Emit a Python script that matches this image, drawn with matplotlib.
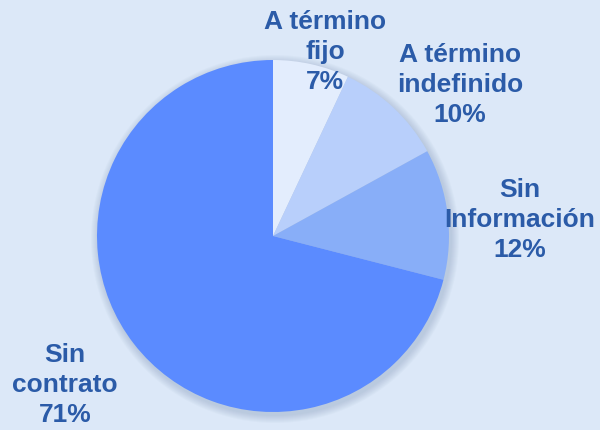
import matplotlib.pyplot as plt
from matplotlib.patches import Circle

labels = ["A término\nfijo", "A término\nindefinido", "Sin\nInformación", "Sin\ncontrato"]
shares = [7, 10, 12, 71]
colors = ["#E3EDFD", "#B8CFFB", "#88AEF8", "#5B8BFF"]
# label anchor (x, y) in pixel coordinates, y from bottom
label_pos = [(325, 378), (460, 345), (520, 210), (65, 45)]

BG = "#DCE8F8"
TXT = "#2B5BA8"

fig = plt.figure(figsize=(6, 4.3), dpi=100, facecolor=BG)
ax = fig.add_axes([0, 0, 1, 1])

cx, cy, r = 273, 194, 176

# soft shadow behind the pie
for i in range(8):
    ax.add_patch(Circle((cx + 2, cy - 3), r + 1 + i, color="#6F86A8",
                        alpha=0.04, lw=0, zorder=1))

ax.pie(shares, colors=colors, startangle=90, counterclock=False,
       center=(cx, cy), radius=r, frame=True,
       wedgeprops=dict(linewidth=0, zorder=2))
ax.set_xlim(0, 600)
ax.set_ylim(0, 430)
ax.set_aspect("equal")
ax.axis("off")

for lab, val, (x, y) in zip(labels, shares, label_pos):
    ax.text(x, y, f"{lab}\n{val}%", ha="center", va="center", color=TXT,
            fontsize=19, fontweight="bold", family="Liberation Sans",
            linespacing=1.34, zorder=5)

fig.savefig("out.png", dpi=100, facecolor=BG)
